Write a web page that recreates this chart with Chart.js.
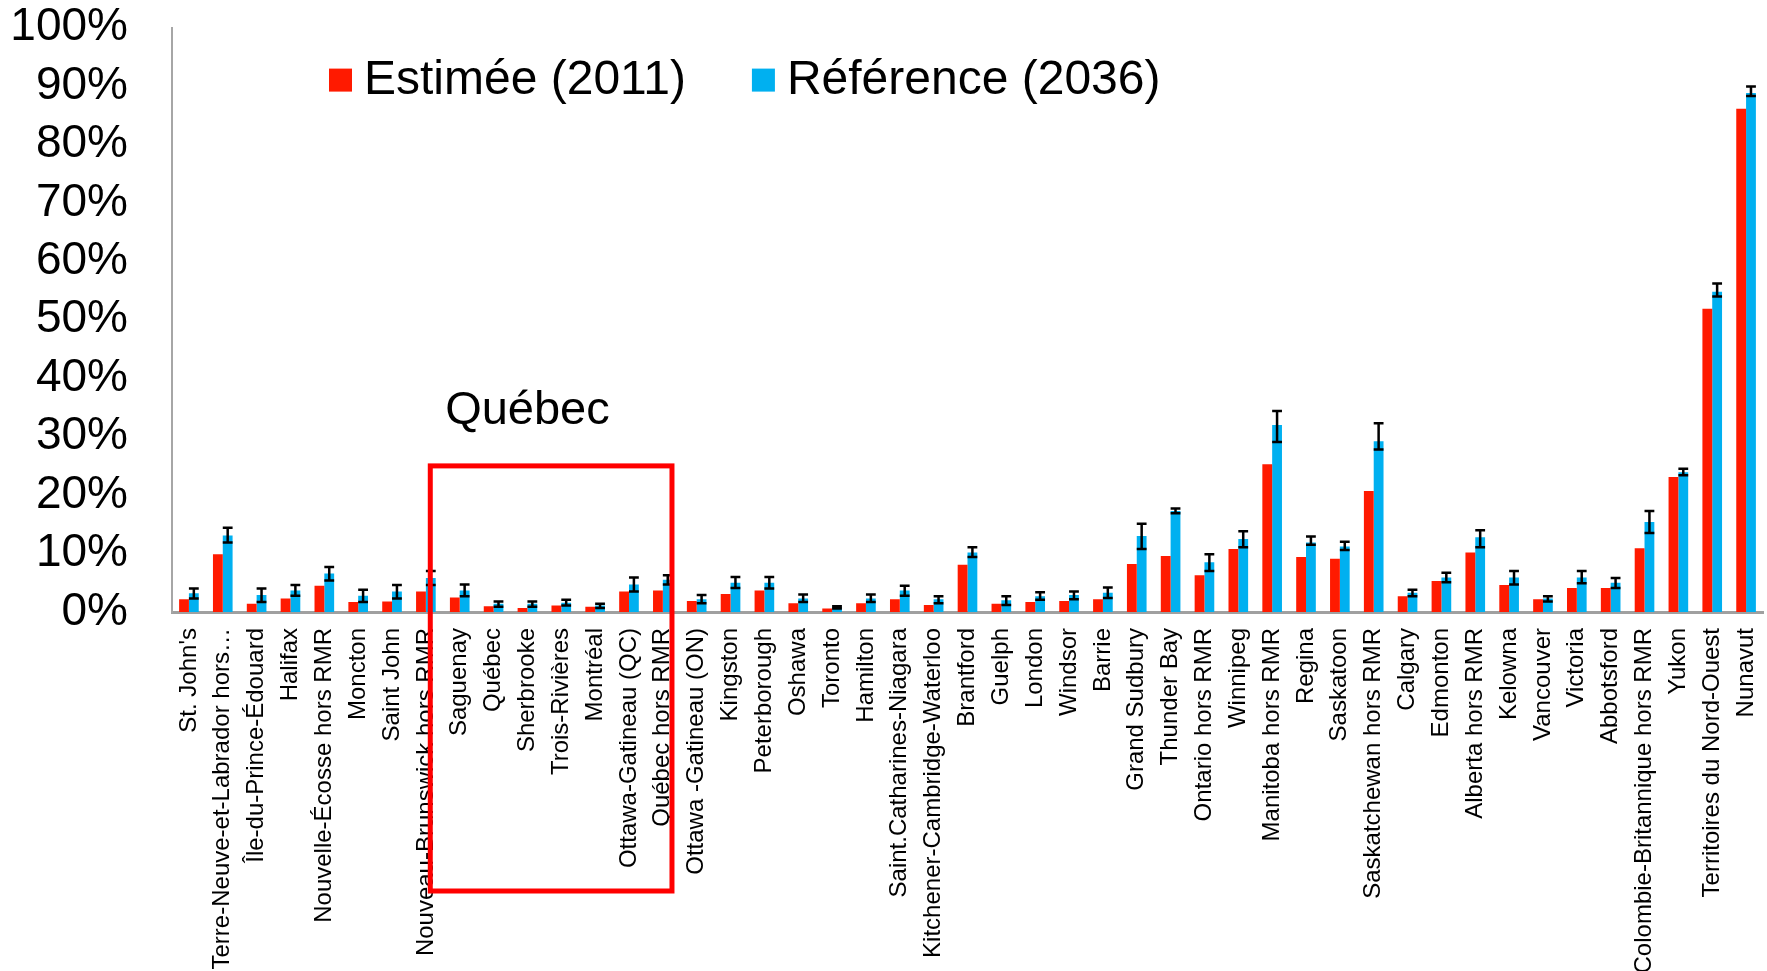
<!DOCTYPE html>
<html><head><meta charset="utf-8">
<script src="https://cdn.jsdelivr.net/npm/chart.js@4.4.1/dist/chart.umd.min.js"></script>
<style>html,body{margin:0;padding:0;background:#fff;overflow:hidden}</style>
</head><body>
<canvas id="c" width="1767" height="971"></canvas>
<script>
const categories = ["St. John's","Terre-Neuve-et-Labrador hors…","Île-du-Prince-Édouard","Halifax","Nouvelle-Écosse hors RMR","Moncton","Saint John","Nouveau-Brunswick hors RMR","Saguenay","Québec","Sherbrooke","Trois-Rivières","Montréal","Ottawa-Gatineau (QC)","Québec hors RMR","Ottawa -Gatineau (ON)","Kingston","Peterborough","Oshawa","Toronto","Hamilton","Saint.Catharines-Niagara","Kitchener-Cambridge-Waterloo","Brantford","Guelph","London","Windsor","Barrie","Grand Sudbury","Thunder Bay","Ontario hors RMR","Winnipeg","Manitoba hors RMR","Regina","Saskatoon","Saskatchewan hors RMR","Calgary","Edmonton","Alberta hors RMR","Kelowna","Vancouver","Victoria","Abbotsford","Colombie-Britannique hors RMR","Yukon","Territoires du Nord-Ouest","Nunavut"];
const estimee2011 = [2.2,9.9,1.4,2.3,4.5,1.7,1.8,3.5,2.5,1.0, 0.7,1.1,0.9,3.5,3.7,1.9,3.1,3.7,1.5,0.6, 1.5,2.2,1.2,8.1,1.4,1.7,1.9,2.2,8.2,9.6, 6.3,10.8,25.3,9.4,9.1,20.7,2.7,5.3,10.2,4.6, 2.2,4.1,4.1,10.9,23.1,51.9,86.1];
const reference2036 = [3.2,13.1,2.9,3.7,6.6,2.8,3.5,5.8,3.7,1.4, 1.4,1.6,1.1,4.7,5.5,2.2,5.0,5.0,2.3,0.8, 2.3,3.7,2.2,10.2,2.0,2.7,2.9,3.3,13.0,17.3, 8.5,12.5,32.0,11.9,11.2,29.2,3.3,5.9,12.8,5.9, 2.3,5.9,5.0,15.4,23.9,54.8,88.8];
const reference2036Low = [2.3,11.9,1.7,2.8,5.4,1.7,2.3,4.6,2.7,0.9, 0.9,1.1,0.7,3.5,4.7,1.5,4.1,4.0,1.7,0.6, 1.7,2.8,1.5,9.4,1.2,2.1,2.2,2.4,10.8,16.9, 7.0,11.1,29.1,11.5,10.6,27.8,2.7,5.1,11.1,4.7, 1.8,4.9,4.1,13.5,23.4,54.0,88.3];
const reference2036High = [4.0,14.4,4.0,4.6,7.7,3.8,4.6,7.0,4.7,1.8, 1.8,2.1,1.4,5.9,6.3,2.9,6.0,6.0,3.0,1.0, 3.0,4.5,2.7,11.1,2.7,3.4,3.5,4.2,15.1,17.7, 9.9,13.8,34.4,12.9,12.0,32.3,3.8,6.7,14.0,7.0, 2.7,7.0,5.8,17.3,24.5,56.2,89.9];
const yTickLabels = ["0%","10%","20%","30%","40%","50%","60%","70%","80%","90%","100%"];
const seriesNames = ["Estimée (2011)","Référence (2036)"];
const highlightLabel = "Québec";
const highlightFirst = 7;   // category index at left edge of box
const highlightLast = 14;   // category index at right edge of box
const highlightTopValue = 25;
const highlightLabelValue = 34.4;
const highlightLabelIndex = 10;

const FONT = '"Liberation Sans", Arial, Helvetica, sans-serif';
const RED = '#FF1A00', BLUE = '#00B0F0';
const Y_TICK_PAD = 44;

const errorBars = {
  id: 'errorBars',
  afterDatasetsDraw(chart) {
    const ctx = chart.ctx, y = chart.scales.y;
    const meta = chart.getDatasetMeta(1);
    ctx.save();
    ctx.strokeStyle = '#000';
    ctx.lineWidth = 2.5;
    meta.data.forEach((bar, i) => {
      const x = bar.x, hw = bar.width / 2;
      const yl = y.getPixelForValue(reference2036Low[i]);
      const yh = y.getPixelForValue(reference2036High[i]);
      ctx.beginPath();
      ctx.moveTo(x, yl); ctx.lineTo(x, yh);
      ctx.moveTo(x - hw, yl); ctx.lineTo(x + hw, yl);
      ctx.moveTo(x - hw, yh); ctx.lineTo(x + hw, yh);
      ctx.stroke();
    });
    ctx.restore();
  }
};

const overlay = {
  id: 'overlay',
  afterDraw(chart) {
    const ctx = chart.ctx, xs = chart.scales.x, ys = chart.scales.y, ca = chart.chartArea;
    const cw = xs.getPixelForValue(1) - xs.getPixelForValue(0);
    ctx.save();
    const left = xs.getPixelForValue(highlightFirst) + 0.13 * cw;
    const right = xs.getPixelForValue(highlightLast) + 0.27 * cw;
    const top = ys.getPixelForValue(highlightTopValue);
    const bottom = ca.bottom + 279;
    ctx.strokeStyle = '#FF0000';
    ctx.lineWidth = 5;
    ctx.strokeRect(left, top, right - left, bottom - top);
    ctx.fillStyle = '#000';
    ctx.font = '47px ' + FONT;
    ctx.textAlign = 'center';
    ctx.textBaseline = 'middle';
    ctx.fillText(highlightLabel, xs.getPixelForValue(highlightLabelIndex), ys.getPixelForValue(highlightLabelValue));
    ctx.textAlign = 'left';
    ctx.font = '48px ' + FONT;
    let lx = ca.left + 157;
    const ly = ca.top + 52;
    const colors = [RED, BLUE];
    seriesNames.forEach((name, i) => {
      ctx.fillStyle = colors[i];
      ctx.fillRect(lx, ly - 11, 23, 23);
      ctx.fillStyle = '#000';
      ctx.fillText(name, lx + 35, ly + 1);
      lx += 35 + ctx.measureText(name).width + 66;
    });
    ctx.restore();
  }
};

new Chart(document.getElementById('c'), {
  type: 'bar',
  data: {
    labels: categories,
    datasets: [
      { label: seriesNames[0], data: estimee2011, backgroundColor: RED, categoryPercentage: 0.58, barPercentage: 1.0 },
      { label: seriesNames[1], data: reference2036, backgroundColor: BLUE, categoryPercentage: 0.58, barPercentage: 1.0 }
    ]
  },
  options: {
    responsive: false,
    devicePixelRatio: 1,
    animation: false,
    layout: { padding: { left: 10, right: 4, top: 0, bottom: 0 } },
    plugins: { legend: { display: false }, tooltip: { enabled: false } },
    scales: {
      x: {
        grid: { display: false, drawTicks: false, tickLength: 0 },
        border: { display: true, color: '#a0a0a0', width: 3 },
        ticks: { color: '#000', font: { family: FONT, size: 24 }, maxRotation: 90, minRotation: 90, autoSkip: false, padding: 16 },
        afterFit(scale) { scale.height = 359; scale.paddingLeft = 0; scale.paddingRight = 0; }
      },
      y: {
        min: 0, max: 100,
        grid: { display: false, drawTicks: false, tickLength: 0 },
        border: { display: true, color: '#a6a6a6', width: 2 },
        ticks: { stepSize: 10, autoSkip: false, color: '#000', font: { family: FONT, size: 46 }, padding: Y_TICK_PAD,
          callback: (v) => yTickLabels[Math.round(v / 10)] },
        afterFit(scale) { scale.width = 162; scale.paddingTop -= Y_TICK_PAD; scale.paddingBottom -= Y_TICK_PAD; }
      }
    }
  },
  plugins: [errorBars, overlay]
});
</script>
</body></html>
